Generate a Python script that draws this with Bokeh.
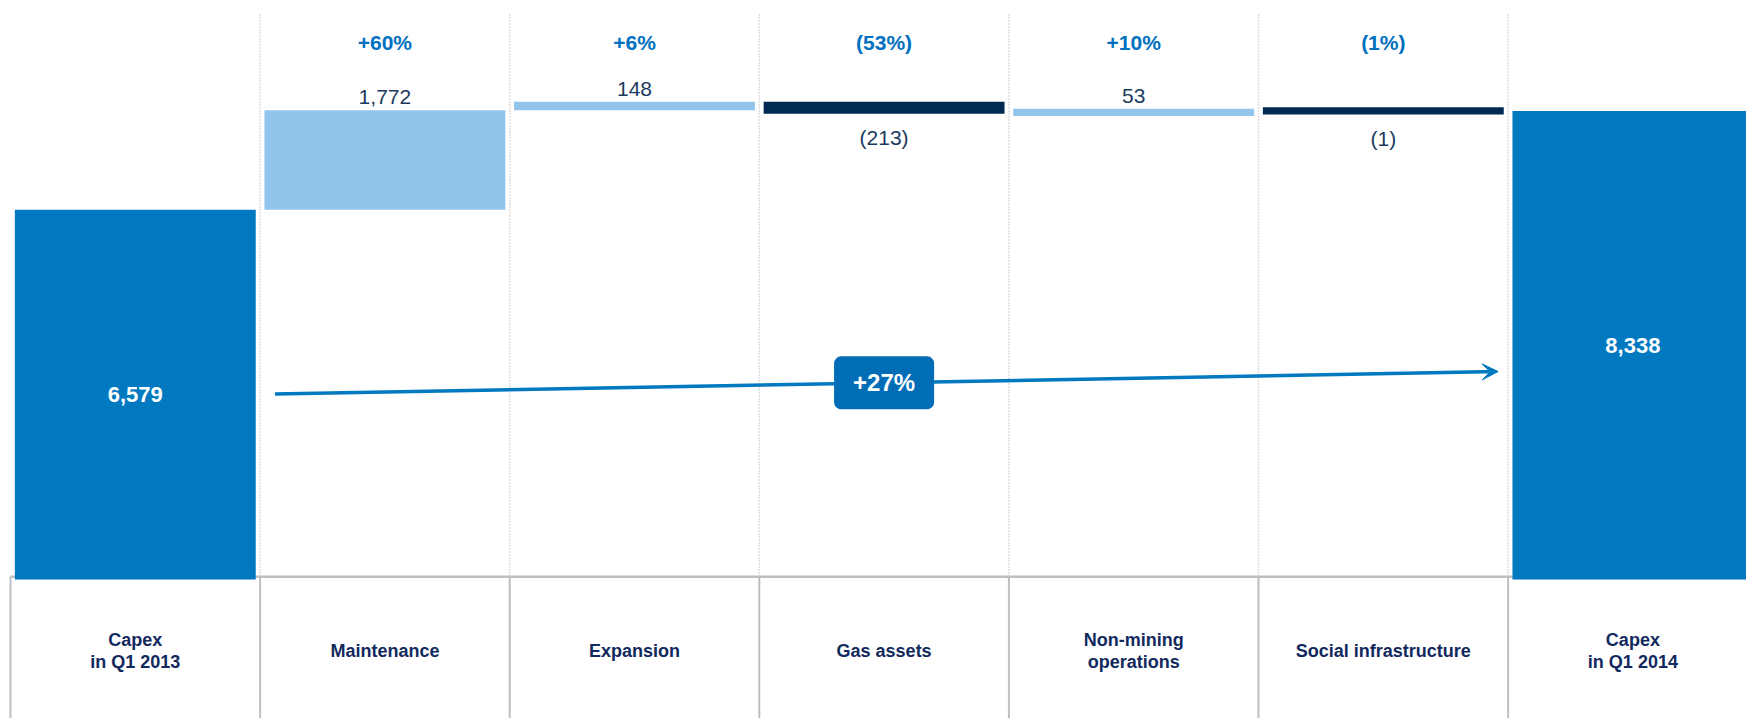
from bokeh.plotting import figure
from bokeh.models import Range1d, Label, Arrow, VeeHead
from bokeh.core.properties import value
from bokeh.embed import file_html
from bokeh.resources import INLINE

# ---------------- data ----------------
categories = ["Capex\nin Q1 2013", "Maintenance", "Expansion", "Gas assets",
              "Non-mining\noperations", "Social infrastructure", "Capex\nin Q1 2014"]
start_value = 6579
end_value = 8338
changes = [1772, 148, -213, 53, -1]
change_labels = ["1,772", "148", "(213)", "53", "(1)"]
pct_labels = ["+60%", "+6%", "(53%)", "+10%", "(1%)"]
total_labels = ["6,579", "8,338"]
growth_label = "+27%"

# ---------------- style ----------------
FONT_NAME = "Liberation Sans"
FONT = value(FONT_NAME)
C_TOTAL = "#0079C1"
C_POS = "#92C5EB"
C_NEG = "#002A52"
C_PCT = "#0070C0"
C_VAL = "#1C3A5E"
C_CAT = "#12295E"
C_GRID = "#BDBDBD"
C_TABLE = "#BFBFBF"

COL_PX = 249.6          # pixels per column
LEFT_PX = 10            # left margin of table in px
PX_PER_UNIT = 0.0562    # vertical pixels per value unit
ZERO_PX = 579           # px from top where value 0 sits
W, H = 1746, 718
BAR_W = 0.965
MIN_H = 130             # minimum visible thickness for tiny changes

x_start = -LEFT_PX / COL_PX
x_end = (W - LEFT_PX) / COL_PX
y_top = ZERO_PX / PX_PER_UNIT
y_bot = -(H - ZERO_PX) / PX_PER_UNIT

p = figure(width=W, height=H, x_range=Range1d(x_start, x_end), y_range=Range1d(y_bot, y_top),
           output_backend="svg", toolbar_location=None, min_border=0,
           x_axis_location=None, y_axis_location=None)
p.grid.visible = False
p.outline_line_color = None
p.background_fill_color = "white"
p.border_fill_color = "white"

n = len(categories)
centers = [i + 0.5 for i in range(n)]

# dotted separators above the table
sep_x = list(range(1, n))
sep_top = (ZERO_PX - 13) / PX_PER_UNIT
p.segment(x0=sep_x, y0=[0] * len(sep_x), x1=sep_x, y1=[sep_top] * len(sep_x),
          line_color=C_GRID, line_width=1.5, line_dash="1 2")

# table lines
tab_x = list(range(0, n + 1))
p.segment(x0=tab_x, y0=[50] * len(tab_x), x1=tab_x, y1=[y_bot] * len(tab_x),
          line_color=C_TABLE, line_width=2)
p.segment(x0=[0], y0=[50], x1=[n], y1=[50], line_color=C_TABLE, line_width=2.5)

# waterfall bars
lefts, rights, bottoms, tops, colors = [], [], [], [], []
lefts.append(centers[0] - BAR_W / 2); rights.append(centers[0] + BAR_W / 2)
bottoms.append(0); tops.append(start_value); colors.append(C_TOTAL)
level = start_value
chg_low, chg_high = [], []
for i, d in enumerate(changes):
    new = level + d
    lo, hi = min(level, new), max(level, new)
    if hi - lo < MIN_H:
        mid = (lo + hi) / 2
        lo, hi = mid - MIN_H / 2, mid + MIN_H / 2
    chg_low.append(lo); chg_high.append(hi)
    c = centers[i + 1]
    lefts.append(c - BAR_W / 2); rights.append(c + BAR_W / 2)
    bottoms.append(lo); tops.append(hi)
    colors.append(C_POS if d >= 0 else C_NEG)
    level = new
lefts.append(centers[-1] - BAR_W / 2); rights.append(centers[-1] + BAR_W / 2)
bottoms.append(0); tops.append(end_value); colors.append(C_TOTAL)

p.quad(left=lefts, right=rights, bottom=bottoms, top=tops, fill_color=colors, line_color=None)

# total labels inside bars
p.text(x=[centers[0], centers[-1]], y=[start_value / 2, end_value / 2], text=total_labels,
       text_font=FONT, text_font_style="bold", text_font_size="22px", text_color="white",
       text_align="center", text_baseline="middle")

# change value labels
pos_x = [centers[i + 1] for i, d in enumerate(changes) if d >= 0]
pos_y = [chg_high[i] for i, d in enumerate(changes) if d >= 0]
pos_t = [change_labels[i] for i, d in enumerate(changes) if d >= 0]
neg_x = [centers[i + 1] for i, d in enumerate(changes) if d < 0]
neg_y = [chg_low[i] for i, d in enumerate(changes) if d < 0]
neg_t = [change_labels[i] for i, d in enumerate(changes) if d < 0]
p.text(x=pos_x, y=pos_y, text=pos_t, text_font=FONT, text_font_size="21px", text_color=C_VAL,
       text_align="center", text_baseline="bottom", y_offset=-6)
p.text(x=neg_x, y=neg_y, text=neg_t, text_font=FONT, text_font_size="21px", text_color=C_VAL,
       text_align="center", text_baseline="top", y_offset=12)

# percentage labels
pct_y = (ZERO_PX - 42) / PX_PER_UNIT
p.text(x=centers[1:-1], y=[pct_y] * len(pct_labels), text=pct_labels, text_font=FONT,
       text_font_style="bold", text_font_size="21px", text_color=C_PCT,
       text_align="center", text_baseline="middle")

# category labels in table
cat_y = -(650 - ZERO_PX) / PX_PER_UNIT
p.text(x=centers, y=[cat_y] * n, text=categories, text_font=FONT, text_font_style="bold",
       text_font_size="18px", text_color=C_CAT, text_align="center", text_baseline="middle",
       text_line_height=1.1)

# growth arrow
ax0, ax1 = 1.06, 5.96
ay0, ay1 = 3300, 3700
p.add_layout(Arrow(x_start=ax0, y_start=ay0, x_end=ax1, y_end=ay1,
                   line_color=C_TOTAL, line_width=3.5,
                   end=VeeHead(size=16, fill_color=C_TOTAL, line_color=C_TOTAL, line_width=1)))
gx = 3.5
gy = ay0 + (ay1 - ay0) * (gx - ax0) / (ax1 - ax0)
p.add_layout(Label(x=gx, y=gy, text=growth_label, text_font=FONT_NAME, text_font_style="bold",
                   text_font_size="24px", text_color="white", text_align="center",
                   text_baseline="middle", background_fill_color="#006DB6",
                   border_radius=7, padding=(19, 13)))

open("out.html", "w").write(file_html(p, INLINE))
